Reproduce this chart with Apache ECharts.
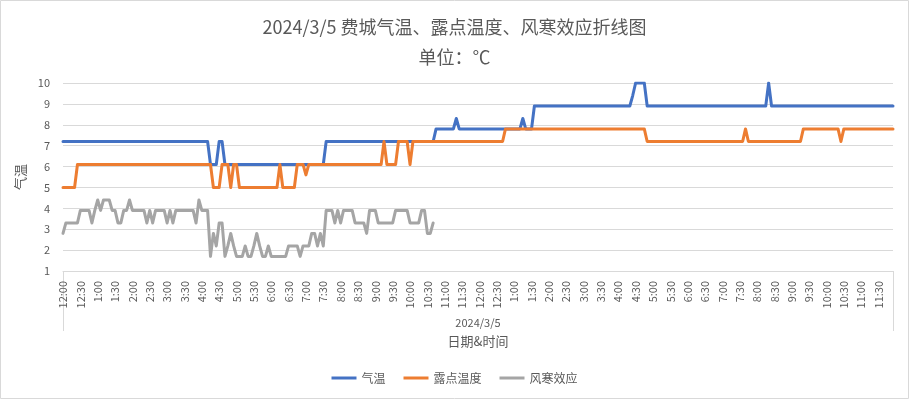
<!DOCTYPE html>
<html>
<head>
<meta charset="utf-8">
<script src="https://cdn.jsdelivr.net/npm/echarts@6/dist/echarts.min.js"></script>
<style>
html,body{margin:0;padding:0;background:#fff;}
#chart{width:909px;height:399px;}
</style>
</head>
<body>
<div id="chart"></div>
<script>
// ---- data (5-minute readings, 2024/3/5, °C) ----
var titleText = '2024/3/5 费城气温、露点温度、风寒效应折线图';
var subTitleText = '单位：℃';
var dateLabel = '2024/3/5';
var xAxisName = '日期&时间';
var yAxisName = '气温';
var seriesNames = ['气温', '露点温度', '风寒效应'];

// category labels: every 5 minutes, 12-hour clock
var categories = [];
(function(){
  for (var h = 0; h < 24; h++) {
    var hh = h % 12 === 0 ? 12 : h % 12;
    for (var m = 0; m < 60; m += 5) {
      categories.push(hh + ':' + (m < 10 ? '0' + m : m));
    }
  }
})();

var temperature = [
  7.2,7.2,7.2,7.2,7.2,7.2,7.2,7.2,7.2,7.2,7.2,7.2,
  7.2,7.2,7.2,7.2,7.2,7.2,7.2,7.2,7.2,7.2,7.2,7.2,
  7.2,7.2,7.2,7.2,7.2,7.2,7.2,7.2,7.2,7.2,7.2,7.2,
  7.2,7.2,7.2,7.2,7.2,7.2,7.2,7.2,7.2,7.2,7.2,7.2,
  7.2,7.2,7.2,6.1,6.1,6.1,7.2,7.2,6.1,6.1,6.1,6.1,
  6.1,6.1,6.1,6.1,6.1,6.1,6.1,6.1,6.1,6.1,6.1,6.1,
  6.1,6.1,6.1,6.1,6.1,6.1,6.1,6.1,6.1,6.1,6.1,6.1,
  6.1,6.1,6.1,6.1,6.1,6.1,6.1,7.2,7.2,7.2,7.2,7.2,
  7.2,7.2,7.2,7.2,7.2,7.2,7.2,7.2,7.2,7.2,7.2,7.2,
  7.2,7.2,7.2,7.2,7.2,7.2,7.2,7.2,7.2,7.2,7.2,7.2,
  7.2,7.2,7.2,7.2,7.2,7.2,7.2,7.2,7.2,7.8,7.8,7.8,
  7.8,7.8,7.8,7.8,8.3,7.8,7.8,7.8,7.8,7.8,7.8,7.8,
  7.8,7.8,7.8,7.8,7.8,7.8,7.8,7.8,7.8,7.8,7.8,7.8,
  7.8,7.8,7.8,8.3,7.8,7.8,7.8,8.9,8.9,8.9,8.9,8.9,
  8.9,8.9,8.9,8.9,8.9,8.9,8.9,8.9,8.9,8.9,8.9,8.9,
  8.9,8.9,8.9,8.9,8.9,8.9,8.9,8.9,8.9,8.9,8.9,8.9,
  8.9,8.9,8.9,8.9,8.9,9.4,10,10,10,10,8.9,8.9,
  8.9,8.9,8.9,8.9,8.9,8.9,8.9,8.9,8.9,8.9,8.9,8.9,
  8.9,8.9,8.9,8.9,8.9,8.9,8.9,8.9,8.9,8.9,8.9,8.9,
  8.9,8.9,8.9,8.9,8.9,8.9,8.9,8.9,8.9,8.9,8.9,8.9,
  8.9,8.9,8.9,8.9,10,8.9,8.9,8.9,8.9,8.9,8.9,8.9,
  8.9,8.9,8.9,8.9,8.9,8.9,8.9,8.9,8.9,8.9,8.9,8.9,
  8.9,8.9,8.9,8.9,8.9,8.9,8.9,8.9,8.9,8.9,8.9,8.9,
  8.9,8.9,8.9,8.9,8.9,8.9,8.9,8.9,8.9,8.9,8.9,8.9
];

var dewPoint = [
  5,5,5,5,5,6.1,6.1,6.1,6.1,6.1,6.1,6.1,
  6.1,6.1,6.1,6.1,6.1,6.1,6.1,6.1,6.1,6.1,6.1,6.1,
  6.1,6.1,6.1,6.1,6.1,6.1,6.1,6.1,6.1,6.1,6.1,6.1,
  6.1,6.1,6.1,6.1,6.1,6.1,6.1,6.1,6.1,6.1,6.1,6.1,
  6.1,6.1,6.1,6.1,5,5,5,6.1,6.1,6.1,5,6.1,
  6.1,5,5,5,5,5,5,5,5,5,5,5,
  5,5,5,6.1,5,5,5,5,5,6.1,6.1,6.1,
  5.6,6.1,6.1,6.1,6.1,6.1,6.1,6.1,6.1,6.1,6.1,6.1,
  6.1,6.1,6.1,6.1,6.1,6.1,6.1,6.1,6.1,6.1,6.1,6.1,
  6.1,6.1,6.1,7.2,6.1,6.1,6.1,6.1,7.2,7.2,7.2,7.2,
  6.1,7.2,7.2,7.2,7.2,7.2,7.2,7.2,7.2,7.2,7.2,7.2,
  7.2,7.2,7.2,7.2,7.2,7.2,7.2,7.2,7.2,7.2,7.2,7.2,
  7.2,7.2,7.2,7.2,7.2,7.2,7.2,7.2,7.2,7.8,7.8,7.8,
  7.8,7.8,7.8,7.8,7.8,7.8,7.8,7.8,7.8,7.8,7.8,7.8,
  7.8,7.8,7.8,7.8,7.8,7.8,7.8,7.8,7.8,7.8,7.8,7.8,
  7.8,7.8,7.8,7.8,7.8,7.8,7.8,7.8,7.8,7.8,7.8,7.8,
  7.8,7.8,7.8,7.8,7.8,7.8,7.8,7.8,7.8,7.8,7.2,7.2,
  7.2,7.2,7.2,7.2,7.2,7.2,7.2,7.2,7.2,7.2,7.2,7.2,
  7.2,7.2,7.2,7.2,7.2,7.2,7.2,7.2,7.2,7.2,7.2,7.2,
  7.2,7.2,7.2,7.2,7.2,7.2,7.2,7.2,7.8,7.2,7.2,7.2,
  7.2,7.2,7.2,7.2,7.2,7.2,7.2,7.2,7.2,7.2,7.2,7.2,
  7.2,7.2,7.2,7.2,7.8,7.8,7.8,7.8,7.8,7.8,7.8,7.8,
  7.8,7.8,7.8,7.8,7.8,7.2,7.8,7.8,7.8,7.8,7.8,7.8,
  7.8,7.8,7.8,7.8,7.8,7.8,7.8,7.8,7.8,7.8,7.8,7.8
];

var windChill = [
  2.8,3.3,3.3,3.3,3.3,3.3,3.9,3.9,3.9,3.9,3.3,3.9,
  4.4,3.9,4.4,4.4,4.4,3.9,3.9,3.3,3.3,3.9,3.9,4.4,
  3.9,3.9,3.9,3.9,3.9,3.3,3.9,3.3,3.9,3.9,3.9,3.9,
  3.3,3.9,3.3,3.9,3.9,3.9,3.9,3.9,3.9,3.9,3.3,4.4,
  3.9,3.9,3.9,1.7,2.8,2.2,3.3,3.3,1.7,2.2,2.8,2.2,
  1.7,1.7,1.7,2.2,1.7,1.7,2.2,2.8,2.2,1.7,1.7,2.2,
  1.7,1.7,1.7,1.7,1.7,1.7,2.2,2.2,2.2,2.2,1.7,2.2,
  2.2,2.2,2.8,2.8,2.2,2.8,2.2,3.9,3.9,3.9,3.3,3.9,
  3.3,3.9,3.9,3.9,3.9,3.3,3.3,3.3,3.3,2.8,3.9,3.9,
  3.9,3.3,3.3,3.3,3.3,3.3,3.3,3.9,3.9,3.9,3.9,3.9,
  3.3,3.3,3.3,3.3,3.9,3.9,2.8,2.8,3.3
];

var yTicks = [1, 10, 1]; // min, max, interval
var colors = ['#4472C4', '#ED7D31', '#A5A5A5'];

// ---- chart ----
var FONT = '"Noto Sans CJK SC", "Noto Sans", sans-serif';
var TXT = '#595959';
var chart = echarts.init(document.getElementById('chart'), null, {renderer: 'canvas'});

function lineSeries(name, data, color) {
  return {
    name: name,
    type: 'line',
    data: data,
    showSymbol: false,
    symbol: 'none',
    animation: false,
    lineStyle: {color: color, width: 3, join: 'round', cap: 'round'},
    itemStyle: {color: color}
  };
}

chart.setOption({
  animation: false,
  color: colors,
  textStyle: {fontFamily: FONT},
  title: [
    {text: titleText, left: 'center', top: 10,
     textStyle: {fontSize: 18, fontWeight: 'normal', color: TXT, fontFamily: FONT, lineHeight: 24}},
    {text: subTitleText, left: 'center', top: 40,
     textStyle: {fontSize: 18, fontWeight: 'normal', color: TXT, fontFamily: FONT, lineHeight: 24}}
  ],
  legend: {
    data: seriesNames,
    bottom: 10,
    left: 'center',
    icon: 'rect',
    itemWidth: 25,
    itemHeight: 3,
    itemGap: 18,
    textStyle: {fontSize: 12, color: TXT, fontFamily: FONT}
  },
  grid: {left: 63, right: 16, top: 83, bottom: 128, containLabel: false},
  xAxis: [
    {
      type: 'category',
      data: categories,
      boundaryGap: false,
      position: 'bottom',
      axisLine: {show: true, lineStyle: {color: '#d9d9d9', width: 1}},
      axisTick: {show: false},
      axisLabel: {interval: 5, rotate: 90, margin: 10, fontSize: 11, color: TXT, fontFamily: FONT},
      splitLine: {show: false},
      name: xAxisName,
      nameLocation: 'middle',
      nameGap: 64,
      nameTextStyle: {fontSize: 13, color: TXT, fontFamily: FONT}
    },
    {
      type: 'category',
      data: [dateLabel],
      boundaryGap: true,
      position: 'bottom',
      offset: 0,
      axisLine: {show: false},
      axisTick: {show: true, length: 60, inside: false, lineStyle: {color: '#d9d9d9', width: 1}},
      axisLabel: {margin: 46, fontSize: 11, color: TXT, fontFamily: FONT},
      splitLine: {show: false}
    }
  ],
  yAxis: {
    type: 'value',
    min: yTicks[0],
    max: yTicks[1],
    interval: yTicks[2],
    axisLine: {show: false},
    axisTick: {show: false},
    axisLabel: {margin: 13, fontSize: 11, color: TXT, fontFamily: FONT},
    splitLine: {show: true, lineStyle: {color: '#d9d9d9', width: 1}},
    name: yAxisName,
    nameLocation: 'middle',
    nameRotate: 90,
    nameGap: 36,
    nameTextStyle: {fontSize: 13, color: TXT, fontFamily: FONT}
  },
  graphic: [{
    type: 'rect',
    shape: {x: 0.5, y: 0.5, width: 908, height: 398},
    style: {fill: null, stroke: '#d9d9d9', lineWidth: 1},
    silent: true,
    z: -10
  }],
  series: [
    lineSeries(seriesNames[0], temperature, colors[0]),
    lineSeries(seriesNames[1], dewPoint, colors[1]),
    lineSeries(seriesNames[2], windChill, colors[2])
  ]
});
</script>
</body>
</html>
